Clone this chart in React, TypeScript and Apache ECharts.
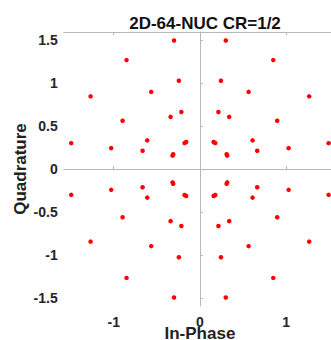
import React, { useEffect, useRef } from "react";
import * as echarts from "echarts";

const titleText = "2D-64-NUC CR=1/2";
const xName = "In-Phase";
const yName = "Quadrature";
const xTicks = [-1, 0, 1];
const yTicks = [-1.5, -1, -0.5, 0, 0.5, 1, 1.5];

// 64 constellation points, [in-phase, quadrature]
const points: [number, number][] = [
  // quadrant I
  [0.3, 1.492], [0.851, 1.264], [0.244, 1.024], [0.565, 0.895],
  [1.268, 0.843], [0.215, 0.661], [0.34, 0.605], [0.897, 0.56],
  [0.611, 0.332], [0.665, 0.212], [1.029, 0.242], [1.493, 0.3],
  [0.159, 0.313], [0.178, 0.302], [0.31, 0.172], [0.317, 0.155],
  // quadrant II
  [-0.3, 1.492], [-0.851, 1.264], [-0.244, 1.024], [-0.565, 0.895],
  [-1.268, 0.843], [-0.215, 0.661], [-0.34, 0.605], [-0.897, 0.56],
  [-0.611, 0.332], [-0.665, 0.212], [-1.029, 0.242], [-1.493, 0.3],
  [-0.159, 0.313], [-0.178, 0.302], [-0.31, 0.172], [-0.317, 0.155],
  // quadrant III
  [-0.3, -1.492], [-0.851, -1.264], [-0.244, -1.024], [-0.565, -0.895],
  [-1.268, -0.843], [-0.215, -0.661], [-0.34, -0.605], [-0.897, -0.56],
  [-0.611, -0.332], [-0.665, -0.212], [-1.029, -0.242], [-1.493, -0.3],
  [-0.159, -0.313], [-0.178, -0.302], [-0.31, -0.172], [-0.317, -0.155],
  // quadrant IV
  [0.3, -1.492], [0.851, -1.264], [0.244, -1.024], [0.565, -0.895],
  [1.268, -0.843], [0.215, -0.661], [0.34, -0.605], [0.897, -0.56],
  [0.611, -0.332], [0.665, -0.212], [1.029, -0.242], [1.493, -0.3],
  [0.159, -0.313], [0.178, -0.302], [0.31, -0.172], [0.317, -0.155],
];

const FONT = "'Liberation Sans', Arial, sans-serif";
const AXIS_GREY = "#b8b8b8";

export default function App() {
  const ref = useRef<HTMLDivElement>(null);
  useEffect(() => {
    if (!ref.current) return;
    const chart = echarts.init(ref.current, undefined, { renderer: "svg" });
    const axisCommon = {
      type: "value",
      splitLine: { show: false },
      axisLine: { show: true, lineStyle: { color: AXIS_GREY, width: 1 } },
      axisTick: { show: true, inside: true, length: 3, lineStyle: { color: AXIS_GREY } },
    };
    chart.setOption({
      animation: false,
      backgroundColor: "#ffffff",
      title: {
        text: titleText,
        left: 200,
        top: 10,
        textAlign: "center",
        textStyle: { fontFamily: FONT, fontWeight: "bold", fontSize: 17, color: "#111" },
      },
      grid: {
        left: 63.7,
        top: 32,
        width: 272.4,
        height: 274,
        outerBoundsMode: "none",
        containLabel: false,
      },
      xAxis: [
        {
          ...axisCommon,
          position: "bottom",
          min: -1.58,
          max: 1.58,
          name: xName,
          nameLocation: "middle",
          nameGap: 19,
          nameMoveOverlap: false,
          nameTextStyle: { fontFamily: FONT, fontWeight: "bold", fontSize: 17, color: "#222", verticalAlign: "top" },
          axisTick: { ...axisCommon.axisTick, customValues: xTicks },
          axisLabel: {
            customValues: xTicks,
            margin: 9,
            fontFamily: FONT,
            fontWeight: "bold",
            fontSize: 14,
            color: "#262626",
          },
        },
        {
          ...axisCommon,
          position: "top",
          min: -1.58,
          max: 1.58,
          axisTick: { ...axisCommon.axisTick, customValues: xTicks },
          axisLabel: { show: false },
        },
      ],
      yAxis: [
        {
          ...axisCommon,
          position: "left",
          min: -1.59,
          max: 1.59,
          name: yName,
          nameLocation: "middle",
          nameGap: 35,
          nameRotate: 90,
          nameMoveOverlap: false,
          nameTextStyle: { fontFamily: FONT, fontWeight: "bold", fontSize: 17, color: "#222" },
          axisTick: { ...axisCommon.axisTick, customValues: yTicks },
          axisLabel: {
            customValues: yTicks,
            margin: 6,
            fontFamily: FONT,
            fontWeight: "bold",
            fontSize: 14,
            color: "#262626",
          },
        },
      ],
      series: [
        {
          type: "scatter",
          data: points,
          symbol: "circle",
          symbolSize: 4.5,
          itemStyle: { color: "#ff0000", opacity: 1 },
          silent: true,
        },
      ],
    });
    return () => chart.dispose();
  }, []);
  return (
    <div
      ref={ref}
      style={{ position: "absolute", left: 0, top: 0, width: 331, height: 340, background: "#fff" }}
    />
  );
}
